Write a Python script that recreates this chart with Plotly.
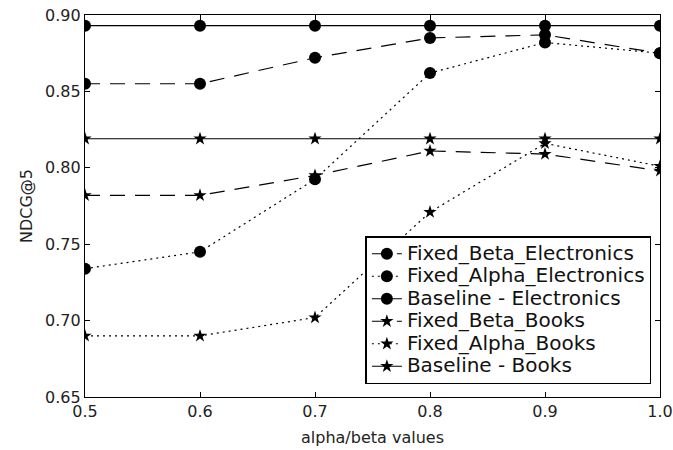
import plotly.graph_objects as go

x_vals = [0.5, 0.6, 0.7, 0.8, 0.9, 1.0]
fixed_beta_electronics = [0.855, 0.855, 0.872, 0.885, 0.887, 0.875]
fixed_alpha_electronics = [0.734, 0.745, 0.7925, 0.862, 0.882, 0.875]
baseline_electronics = [0.893, 0.893, 0.893, 0.893, 0.893, 0.893]
fixed_beta_books = [0.782, 0.782, 0.795, 0.811, 0.809, 0.798]
fixed_alpha_books = [0.690, 0.690, 0.702, 0.771, 0.816, 0.801]
baseline_books = [0.819, 0.819, 0.819, 0.819, 0.819, 0.819]
y_ticks = [0.65, 0.70, 0.75, 0.80, 0.85, 0.90]

DASH = "15px,10px"
DOT = "2px,4px"
series = [
    ("Fixed_Beta_Electronics", fixed_beta_electronics, DASH, "circle", 12),
    ("Fixed_Alpha_Electronics", fixed_alpha_electronics, DOT, "circle", 12),
    ("Baseline - Electronics", baseline_electronics, "solid", "circle", 12),
    ("Fixed_Beta_Books", fixed_beta_books, DASH, "star", 10),
    ("Fixed_Alpha_Books", fixed_alpha_books, DOT, "star", 10),
    ("Baseline - Books", baseline_books, "solid", "star", 10),
]

fig = go.Figure()
for name, ys, dash, sym, sz in series:
    fig.add_trace(go.Scatter(
        x=x_vals, y=ys, mode="lines+markers",
        name='<span style="font-size:20px">' + name + '</span>',
        line=dict(color="black", width=1.2, dash=dash),
        marker=dict(symbol=sym, size=sz, color="black", line=dict(width=0)),
    ))

tfont = dict(family="DejaVu Sans", size=16, color="#222")
axis_common = dict(
    showgrid=False, zeroline=False, showline=True, linecolor="black", linewidth=1.2,
    mirror="allticks", ticks="inside", ticklen=5, tickcolor="black",
    tickfont=tfont, ticklabeloverflow="allow",
)
fig.update_xaxes(range=[0.5, 1.0], tickvals=x_vals, tickformat=".1f",
                 title=dict(text="alpha/beta values", font=tfont, standoff=11),
                 **axis_common)
fig.update_yaxes(range=[0.65, 0.90], tickvals=y_ticks, tickformat=".2f",
                 title=dict(text="NDCG@5", font=tfont, standoff=8),
                 **axis_common)

fig.update_layout(
    width=673, height=450,
    margin=dict(l=85, r=13, t=15, b=53, autoexpand=False),
    paper_bgcolor="white", plot_bgcolor="white",
    font=dict(family="DejaVu Sans", color="black"),
    legend=dict(
        x=0.985, y=0.034, xanchor="right", yanchor="bottom",
        bgcolor="white", bordercolor="black", borderwidth=1.5,
        font=dict(family="DejaVu Sans", size=15, color="#111"),
        tracegroupgap=0, itemsizing="trace",
    ),
)

fig.write_html("out.html",
               config={"displayModeBar": False},
               post_script="document.body.style.margin='0';document.body.style.overflow='hidden';")
